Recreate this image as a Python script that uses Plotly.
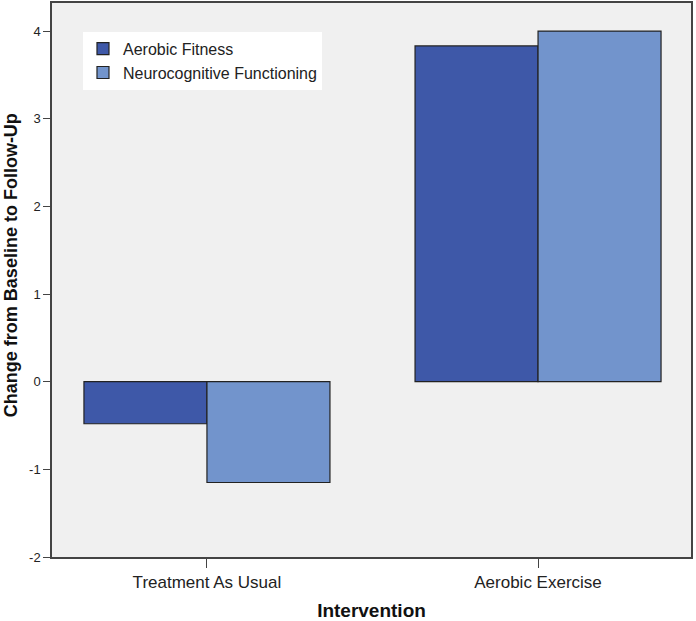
import plotly.graph_objects as go

categories = ["Treatment As Usual", "Aerobic Exercise"]
aerobic_fitness = [-0.48, 3.83]
neurocognitive = [-1.15, 4.0]
series_names = ["Aerobic Fitness", "Neurocognitive Functioning"]
y_ticks = [-2, -1, 0, 1, 2, 3, 4]
y_tick_labels = ["-2", "-1", "0", "1", "2", "3", "4"]

fig = go.Figure()
fig.add_trace(go.Bar(x=categories, y=aerobic_fitness, name=series_names[0],
                     marker=dict(color="#3e58a8", line=dict(color="#222222", width=1.2))))
fig.add_trace(go.Bar(x=categories, y=neurocognitive, name=series_names[1],
                     marker=dict(color="#7294cc", line=dict(color="#222222", width=1.2))))

fig.update_layout(
    width=696, height=621,
    margin=dict(l=52, r=5, t=3, b=64),
    paper_bgcolor="white",
    plot_bgcolor="#f0f0f0",
    barmode="group",
    bargap=0.257,
    bargroupgap=0,
    font=dict(family="Liberation Sans, Arial, sans-serif", color="#222222"),
    showlegend=True,
    legend=dict(x=0.0485, y=0.948, xanchor="left", yanchor="top",
                bgcolor="white", font=dict(size=16, color="#222222"),
                traceorder="normal", itemwidth=30,
                tracegroupgap=0),
    xaxis=dict(range=[-0.468, 1.462], showline=True, linecolor="#444444", linewidth=1.5,
               mirror=True, ticks="outside", ticklen=9, tickcolor="#444444",
               tickfont=dict(size=17, color="#222222"), automargin=False,
               title=dict(text="<b>Intervention</b>", font=dict(size=19, color="#111111"), standoff=16),
               showgrid=False, zeroline=False),
    yaxis=dict(range=[-2, 4.32], tickvals=y_ticks, ticktext=y_tick_labels,
               showline=True, linecolor="#444444", linewidth=1.5,
               mirror=True, ticks="outside", ticklen=7, tickcolor="#444444",
               tickfont=dict(size=13, color="#222222"), automargin=False,
               showgrid=False, zeroline=False),
    annotations=[dict(text="<b>Change from Baseline to Follow-Up</b>", xref="paper", yref="paper",
                      x=-0.064, y=0.527, xanchor="center", yanchor="middle", textangle=-90,
                      showarrow=False, font=dict(size=18, color="#111111"))],
)

fig.write_html("out.html", config={"displayModeBar": False},
               post_script="document.body.style.margin='0';")
